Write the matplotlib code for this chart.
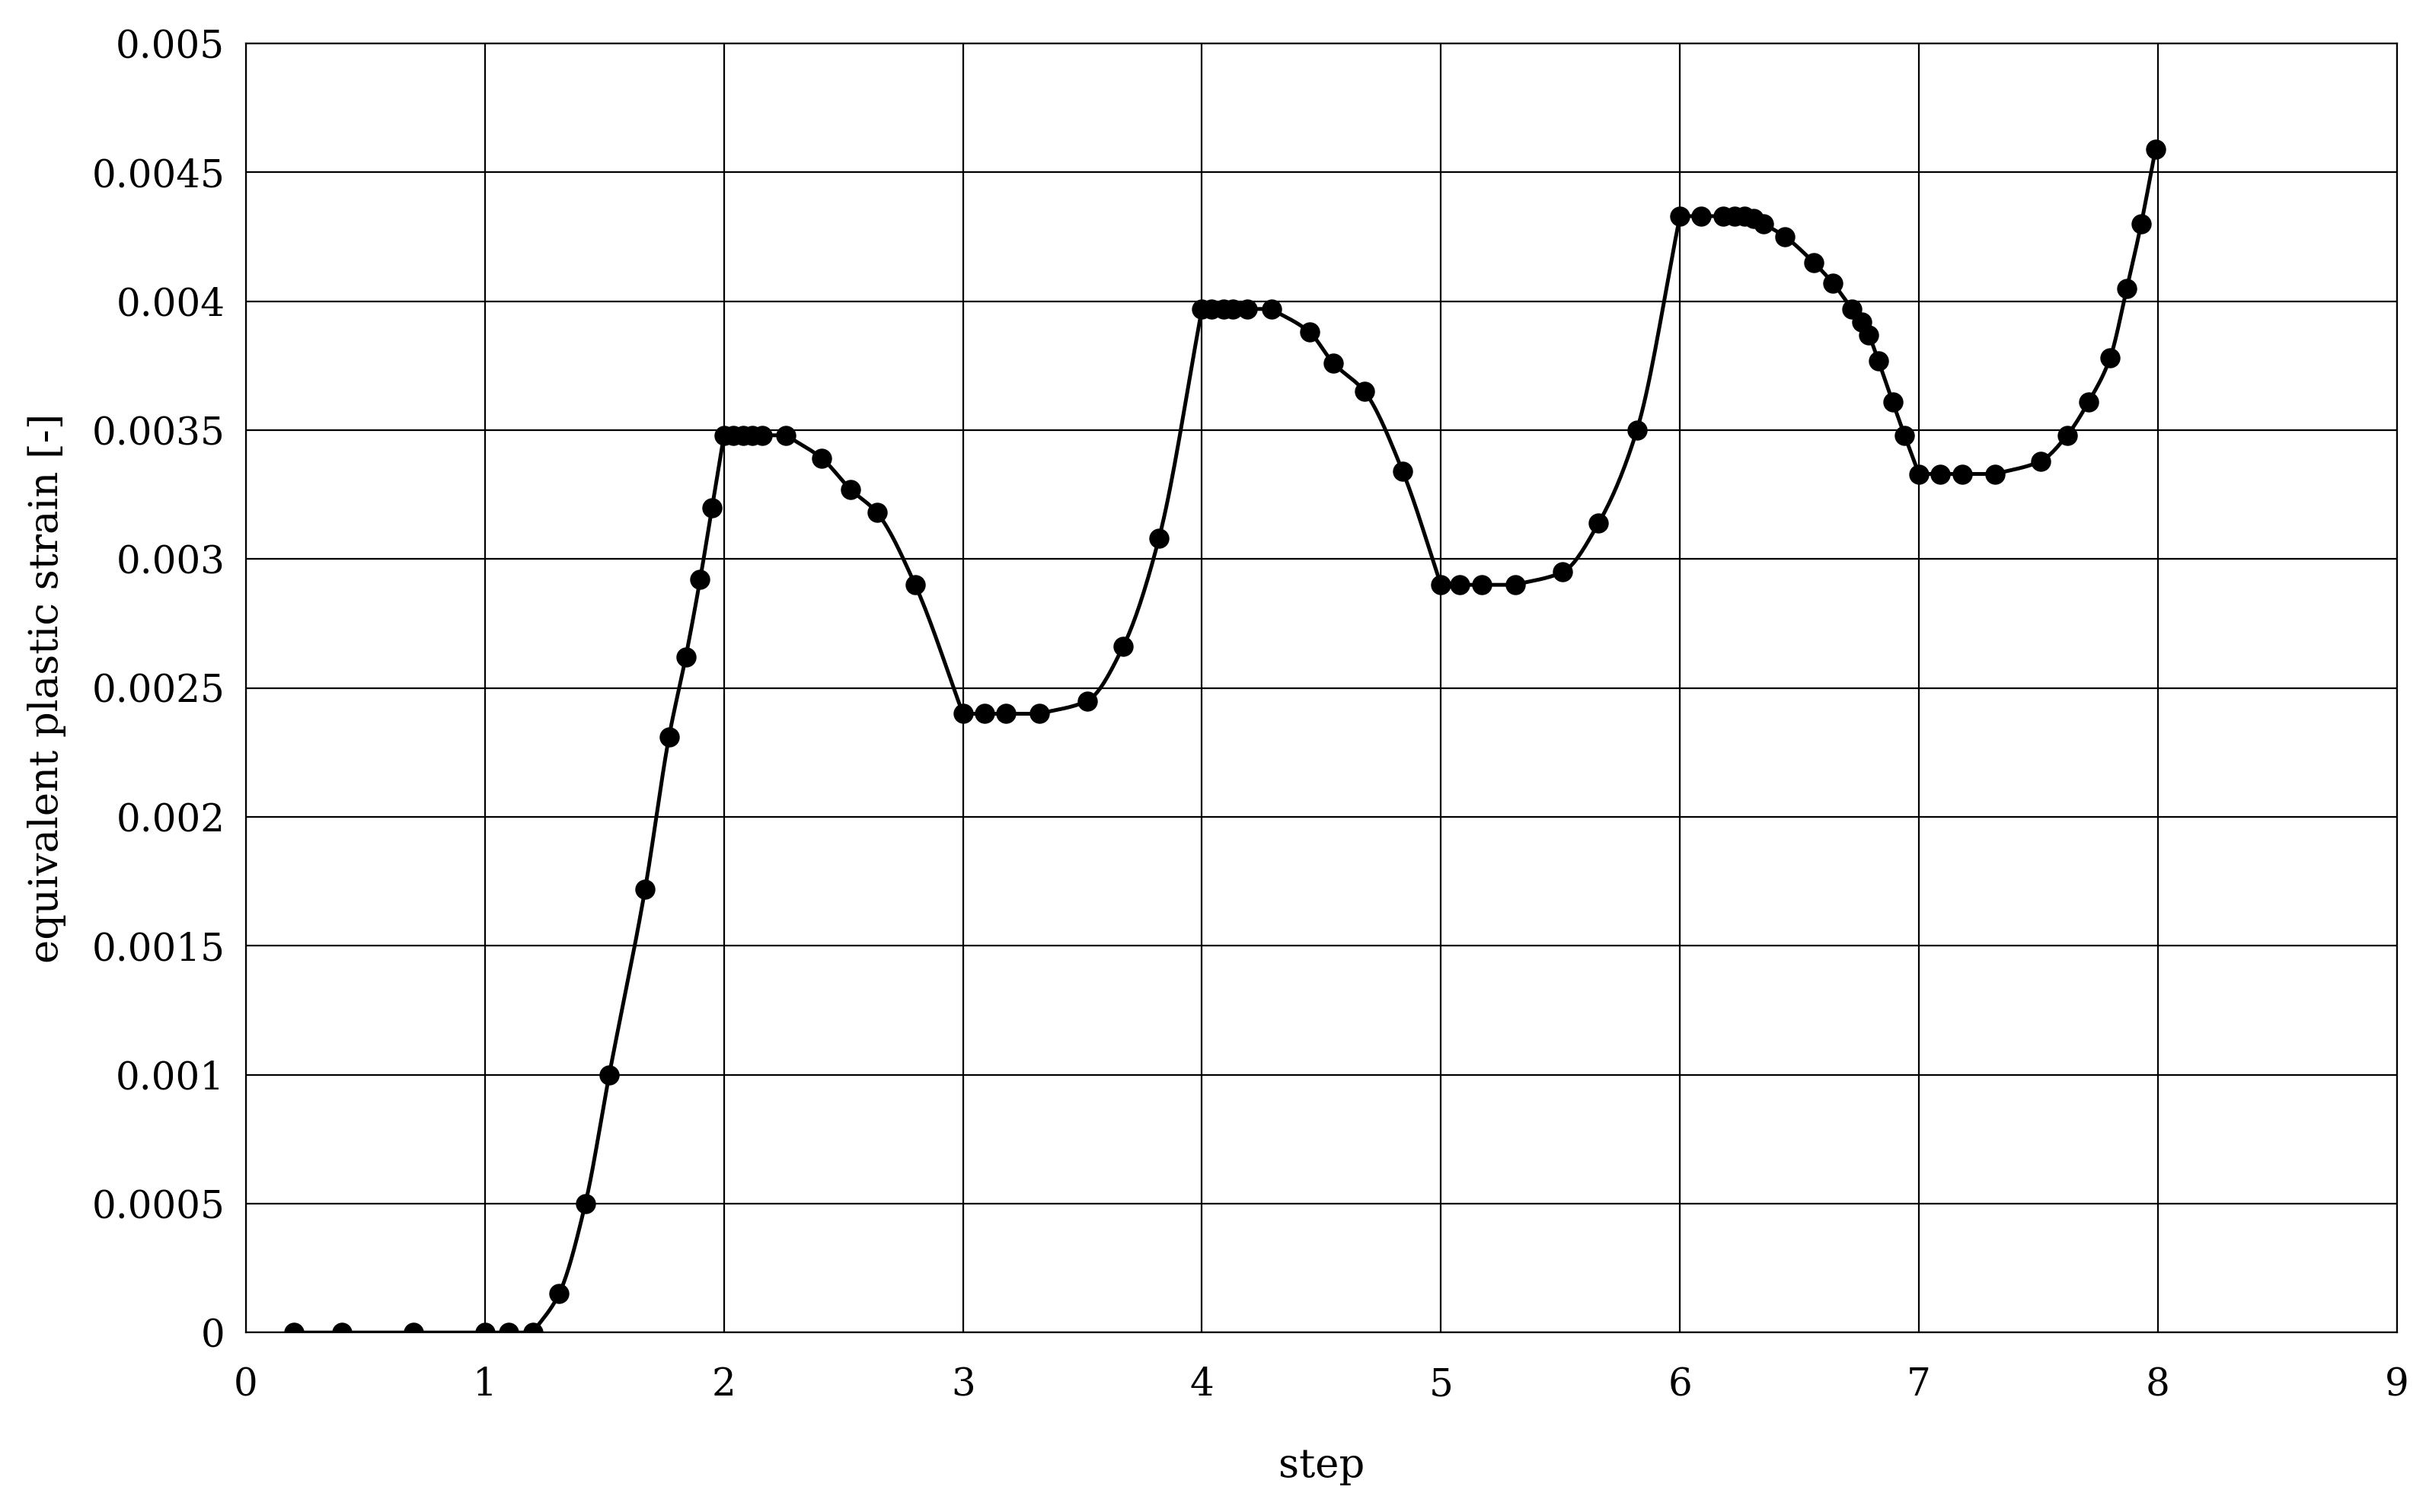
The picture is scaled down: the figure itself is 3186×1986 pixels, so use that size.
import numpy as np
import matplotlib.pyplot as plt

step = [0.2, 0.4, 0.7, 1.0, 1.1, 1.2, 1.31, 1.42, 1.52, 1.67, 1.77, 1.84, 1.9, 1.95, 2.0,
        2.04, 2.08, 2.12, 2.16, 2.26, 2.41, 2.53, 2.64, 2.8,
        3.0, 3.09, 3.18, 3.32, 3.52, 3.67, 3.82,
        4.0, 4.04, 4.09, 4.13, 4.19, 4.29, 4.45, 4.55, 4.68, 4.84,
        5.0, 5.08, 5.17, 5.31, 5.51, 5.66, 5.82,
        6.0, 6.09, 6.18, 6.23, 6.27, 6.31, 6.35, 6.44, 6.56, 6.64, 6.72, 6.76, 6.79, 6.83, 6.89, 6.94,
        7.0, 7.09, 7.18, 7.32, 7.51, 7.62, 7.71, 7.8, 7.87, 7.93, 7.99]
strain = [0, 0, 0, 0, 0, 0, 0.00015, 0.0005, 0.001, 0.00172, 0.00231, 0.00262, 0.00292, 0.0032, 0.00348,
          0.00348, 0.00348, 0.00348, 0.00348, 0.00348, 0.00339, 0.00327, 0.00318, 0.0029,
          0.0024, 0.0024, 0.0024, 0.0024, 0.00245, 0.00266, 0.00308,
          0.00397, 0.00397, 0.00397, 0.00397, 0.00397, 0.00397, 0.00388, 0.00376, 0.00365, 0.00334,
          0.0029, 0.0029, 0.0029, 0.0029, 0.00295, 0.00314, 0.0035,
          0.00433, 0.00433, 0.00433, 0.00433, 0.00433, 0.00432, 0.0043, 0.00425, 0.00415, 0.00407,
          0.00397, 0.00392, 0.00387, 0.00377, 0.00361, 0.00348,
          0.00333, 0.00333, 0.00333, 0.00333, 0.00338, 0.00348, 0.00361, 0.00378, 0.00405, 0.0043, 0.00459]


def smooth(x, y, n=20):
    # hermite curve through the points; corners kept where the slope changes sign
    x = np.asarray(x, float)
    y = np.asarray(y, float)
    h = np.diff(x)
    d = np.diff(y) / h
    mL = np.zeros_like(y)   # tangent arriving at point i
    mR = np.zeros_like(y)   # tangent leaving point i
    mL[-1] = d[-1]
    mR[0] = d[0]
    for i in range(1, len(x) - 1):
        if d[i - 1] * d[i] > 0:
            w1 = 2 * h[i] + h[i - 1]
            w2 = h[i] + 2 * h[i - 1]
            mL[i] = mR[i] = (w1 + w2) / (w1 / d[i - 1] + w2 / d[i])
        else:
            mL[i] = d[i - 1]
            mR[i] = d[i]
    t = np.linspace(0, 1, n)
    h00 = 2 * t**3 - 3 * t**2 + 1
    h10 = t**3 - 2 * t**2 + t
    h01 = -2 * t**3 + 3 * t**2
    h11 = t**3 - t**2
    xs, ys = [], []
    for i in range(len(x) - 1):
        xs.extend(x[i] + t * h[i])
        ys.extend(h00 * y[i] + h10 * h[i] * mR[i] + h01 * y[i + 1] + h11 * h[i] * mL[i + 1])
    return xs, ys


plt.rcParams['font.family'] = ['DejaVu Serif']

fig = plt.figure(figsize=(15.93, 9.93), dpi=200)
ax = fig.add_axes([0.1014, 0.1187, 0.8866, 0.8526])

sx, sy = smooth(step, strain)
ax.plot(sx, sy, color='black', lw=1.8, zorder=3)
ax.plot(step, strain, 'o', color='black', ms=8.5, zorder=4)

ax.set_xlim(0, 9)
ax.set_ylim(0, 0.005)
ax.set_xticks(range(10))
yt = np.round(np.arange(0, 0.00501, 0.0005), 4)
ax.set_yticks(yt)
ax.set_yticklabels(['{:g}'.format(v) for v in yt])
ax.grid(True, color='black', lw=0.8)
ax.set_axisbelow(True)
ax.tick_params(length=0, labelsize=18)
ax.tick_params(axis='y', pad=10)
ax.tick_params(axis='x', pad=16)
for s in ax.spines.values():
    s.set_color('black')
    s.set_linewidth(0.8)

ax.set_xlabel('step', fontsize=19, labelpad=20)
ax.set_ylabel('equivalent plastic strain [-]', fontsize=19, labelpad=12)

fig.savefig('out.png', dpi=200)
